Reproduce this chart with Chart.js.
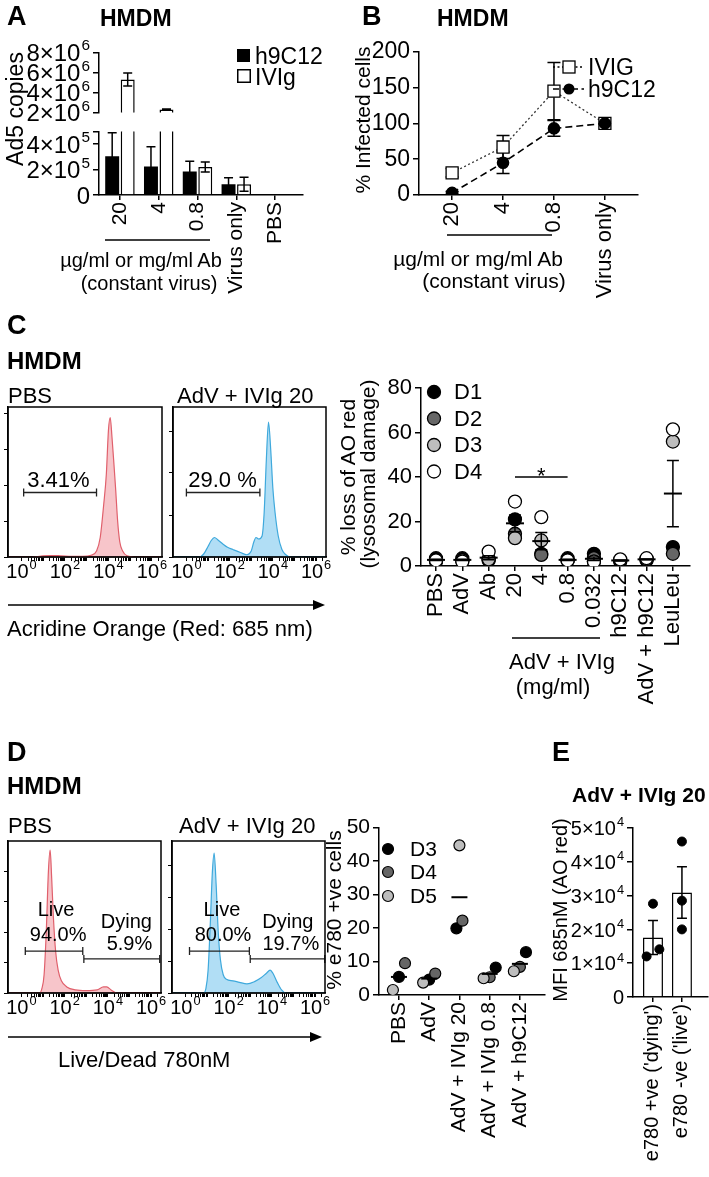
<!DOCTYPE html>
<html lang="en"><head><meta charset="utf-8"><title>HMDM figure</title>
<script src="https://cdn.jsdelivr.net/npm/chart.js@4.4.1/dist/chart.umd.min.js"></script>
<style>
html,body{margin:0;padding:0;background:#fff}
body{position:relative;width:709px;height:1177px;overflow:hidden;font-family:'Liberation Sans',Arial,Helvetica,sans-serif;color:#000}
canvas{position:absolute}
.t{position:absolute;white-space:nowrap;line-height:1.15}
svg{position:absolute;left:0;top:0}
</style></head><body>
<script>
// ================= DATA =================
// Panel A
const aCategories = ['20', '4', '0.8', 'Virus only', 'PBS'];
const aH9C12 = [3.05e5, 2.25e5, 1.85e5, 0.85e5, 0];
const aH9C12Err = [1.85e5, 1.55e5, 0.8e5, 0.5e5, 0];
const aIVIg = [5.3e6, 2.3e6, 2.2e5, 0.85e5, 0];
const aIVIgErr = [0.65e6, 0.05e6, 0.4e5, 0.55e5, 0];
const aUpperTicks = [2e6, 4e6, 6e6, 8e6];
const aUpperTickLabels = ['2×10⁶', '4×10⁶', '6×10⁶', '8×10⁶'];
const aLowerTicks = [0, 2e5, 4e5, 5e5];
const aLowerTickLabels = ['0', '2×10⁵', '4×10⁵', ''];
const aLegend = ['h9C12', 'IVIg'];

// Panel B
const bCategories = ['20', '4', '0.8', 'Virus only'];
const bIVIG = [31, 67, 145, 100];
const bIVIGErr = [6, 16, 40, 0];
const bH9C12 = [3, 45, 93, 100];
const bH9C12Err = [2, 15, 11, 0];
const bTicks = [0, 50, 100, 150, 200];
const bLegend = ['IVIG', 'h9C12'];

// Flow histograms (x = log10 intensity, y = % of mode)
const histDecades = [0, 2, 4, 6];
const histDecadeLabels = ['10⁰', '10²', '10⁴', '10⁶'];
const cPbsLog   = [-0.62, 0.5, 0.9, 1.3, 1.8, 2.3, 2.8, 3.2, 3.45, 3.62, 3.78, 3.9, 4.0, 4.08, 4.16, 4.25, 4.33, 4.42, 4.52, 4.65, 4.85, 5.2, 6.46];
const cPbsCount = [0, 0, 0.6, 1.0, 0.8, 0.5, 0.4, 1.2, 4, 13, 35, 55, 85, 93, 80, 62, 45, 24, 10, 4, 0.8, 0, 0];
const cIvigLog   = [-0.62, 0.6, 0.8, 1.0, 1.15, 1.3, 1.45, 1.7, 1.9, 2.15, 2.5, 2.8, 3.0, 3.12, 3.22, 3.35, 3.5, 3.6, 3.7, 3.8, 3.9, 4.0, 4.1, 4.25, 4.42, 4.6, 4.8, 6.46];
const cIvigCount = [0, 0, 2, 7, 11, 13, 11.5, 8.5, 6.5, 5, 3, 1.5, 4, 10, 13, 12, 14, 30, 65, 90, 72, 46, 30, 14, 5, 1.5, 0, 0];
const cPbsYTicks = [0, 24, 48, 72, 96];
const cIvigYTicks = [0, 28, 56, 84];
const cPbsGates = [{from: 0.1, to: 3.45, y: 43}];
const cPbsGateText = [{text: '3.41%', x: 1.7, y: 50.5}];
const cIvigGates = [{from: 0.0, to: 3.4, y: 43}];
const cIvigGateText = [{text: '29.0 %', x: 1.67, y: 50.5}];

const dPbsLog   = [-0.62, 0.85, 0.95, 1.05, 1.15, 1.25, 1.33, 1.4, 1.48, 1.58, 1.7, 1.85, 2.1, 2.5, 3.0, 3.5, 3.8, 3.95, 4.15, 4.4, 6.46];
const dPbsCount = [0, 0, 3, 12, 40, 80, 94, 76, 50, 28, 15, 8, 4, 2, 1.5, 2, 4, 4, 2, 0, 0];
const dIvigLog   = [-0.62, 0.85, 0.95, 1.05, 1.15, 1.25, 1.33, 1.42, 1.52, 1.62, 1.75, 1.9, 2.2, 2.5, 2.85, 3.2, 3.5, 3.75, 3.92, 4.05, 4.25, 4.45, 4.65, 6.46];
const dIvigCount = [0, 0, 3, 15, 45, 80, 92, 72, 40, 22, 12, 9, 8, 7, 6, 7.5, 10, 13, 15, 13, 7, 2, 0, 0];
const dPbsYTicks = [0, 20, 40, 60, 80];
const dIvigYTicks = [0, 21, 42, 63, 84];
const dPbsGates = [{from: 0.18, to: 2.84, y: 27.6}, {from: 2.89, to: 6.4, y: 22.4}];
const dPbsGateText = [{text: 'Live', x: 1.6, y: 54.6}, {text: '94.0%', x: 1.7, y: 38}, {text: 'Dying', x: 4.86, y: 46.7}, {text: '5.9%', x: 5.0, y: 31.6}];
const dIvigGates = [{from: 0.19, to: 2.96, y: 27.6}, {from: 3.0, to: 6.45, y: 22.4}];
const dIvigGateText = [{text: 'Live', x: 1.69, y: 54.6}, {text: '80.0%', x: 1.74, y: 38}, {text: 'Dying', x: 4.74, y: 46.7}, {text: '19.7%', x: 4.88, y: 31.6}];

// Panel C scatter
const cCategories = ['PBS', 'AdV', 'Ab', '20', '4', '0.8', '0.032', 'h9C12', 'AdV + h9C12', 'LeuLeu'];
const cD1 = [3.5, 3.5, 3.0, 21, 5.5, 3.5, 5.5, 2.0, 2.5, 8.5];
const cD2 = [2.5, 2.5, 2.5, 14.5, 5.0, 2.5, 3.5, 2.5, 3.0, 5.5];
const cD3 = [2.0, 2.5, 3.0, 12.5, 11.5, 2.5, 2.0, 2.5, 3.0, 56];
const cD4 = [2.5, 2.0, 6.5, 29, 22, 2.5, 2.0, 3.0, 3.5, 61.5];
const cMean = [2.75, 2.75, 3.75, 19.2, 11.2, 2.75, 3.25, 2.5, 3.0, 32.6];
const cSem  = [0.3, 0.3, 0.9, 3.8, 3.9, 0.25, 0.8, 0.2, 0.2, 14.9];
const cTicks = [0, 20, 40, 60, 80];
const cDonors = ['D1', 'D2', 'D3', 'D4'];
const cSig = {from: 3, to: 5, y: 40, text: '*'};

// Panel D scatter
const dCategories = ['PBS', 'AdV', 'AdV + IVIg 20', 'AdV + IVIg 0.8', 'AdV + h9C12'];
const dD3 = [5.4, 4.6, 19.9, 8.2, 12.8];
const dD4 = [9.5, 6.4, 22.2, 5.3, 8.4];
const dD5 = [1.5, 3.7, 44.7, 5.0, 7.1];
const dMean = [5.4, 4.9, 29.2, 6.3, 9.3];
const dTicks = [0, 10, 20, 30, 40, 50];
const dDonors = ['D3', 'D4', 'D5'];

// Panel E
const eCategories = ["e780 +ve ('dying')", "e780 -ve ('live')"];
const eDying = [2.76e4, 1.2e4, 1.41e4];
const eLive = [4.6e4, 2.85e4, 2.0e4];
const eMean = [1.76e4, 3.09e4];
const eSem = [0.5e4, 0.76e4];
const eTicks = [0, 1e4, 2e4, 3e4, 4e4, 5e4];
const eTickLabels = ['0', '1×10⁴', '2×10⁴', '3×10⁴', '4×10⁴', '5×10⁴'];

// ================= HELPERS =================
const FONT = "'Liberation Sans', Arial, Helvetica, sans-serif";
Chart.defaults.font.family = FONT;
Chart.defaults.color = '#000';
const CLEAR = 'rgba(0,0,0,0)';
let uid = 0;

function canvasFor(area, g) {
  const c = document.createElement('canvas');
  const left = area.x0 - g.leftW, top = area.y0 - g.topPad;
  const w = area.x1 - area.x0 + g.leftW + g.rightPad;
  const h = area.y1 - area.y0 + g.topPad + g.bottomH + (g.bottomPad || 0);
  c.width = w; c.height = h;
  Object.assign(c.style, {left: left + 'px', top: top + 'px', width: w + 'px', height: h + 'px'});
  document.body.appendChild(c);
  return c;
}
function baseOpts(g) {
  return {
    responsive: false, animation: false, devicePixelRatio: 1, events: [],
    layout: {padding: {left: 0, top: g.topPad, right: g.rightPad, bottom: g.bottomPad || 0}},
    plugins: {legend: {display: false}, tooltip: {enabled: false}}
  };
}
function yAxis(g, min, max, ticks, labels, size, color) {
  return {
    type: 'linear', min, max, position: 'left',
    border: {display: true, color: '#000', width: 1.5},
    grid: {drawOnChartArea: false, drawTicks: true, tickLength: 6, color: '#000', lineWidth: 1.5},
    ticks: {autoSkip: false, padding: 3, font: {size}, color: color || '#000',
            callback: (v, i) => labels ? labels[i] : String(v)},
    afterBuildTicks: s => { s.ticks = ticks.map(v => ({value: v})); },
    afterFit: s => { s.width = g.leftW; }
  };
}
function xAxis(g, min, max, ticks, labels, size) {
  return {
    type: 'linear', min, max, position: 'bottom', offset: false,
    border: {display: true, color: '#000', width: 1.5},
    grid: {drawOnChartArea: false, drawTicks: true, tickLength: 5, color: '#000', lineWidth: 1.5, offset: false},
    ticks: {autoSkip: false, minRotation: 90, maxRotation: 90, padding: 2, font: {size}, color: '#000',
            callback: (v, i) => labels[i]},
    afterBuildTicks: s => { s.ticks = ticks.map(v => ({value: v})); },
    afterFit: s => { s.height = g.bottomH; }
  };
}
// tick labels written with a real raised exponent
const SUP = '⁰¹²³⁴⁵⁶⁷⁸⁹';
function splitSup(s) { let b = '', e = ''; for (const ch of s) { const k = SUP.indexOf(ch); if (k >= 0) e += k; else b += ch; } return [b, e]; }
function supTicks(axisId, size, mode) {
  return {id: 'sup' + (uid++), afterDraw(chart) {
    const sc = chart.scales[axisId], ctx = chart.ctx;
    const tl = sc.options.grid.tickLength, pad = sc.options.ticks.padding, es = size * 0.64;
    ctx.save(); ctx.fillStyle = '#000'; ctx.textBaseline = 'alphabetic'; ctx.textAlign = 'left';
    sc.ticks.forEach((t, i) => {
      if (!t.label) return;
      const [b, e] = splitSup(String(t.label));
      ctx.font = size + 'px ' + FONT; const wb = ctx.measureText(b).width;
      ctx.font = es + 'px ' + FONT; const we = e ? ctx.measureText(e).width + 1 : 0;
      const p = sc.getPixelForTick(i);
      let x, yb;
      if (mode === 'left') { x = sc.right - tl - pad - wb - we; yb = p + 0.36 * size; }
      else { x = p - (wb + we) / 2; yb = sc.top + tl + pad + 0.8 * size; }
      ctx.font = size + 'px ' + FONT; ctx.fillText(b, x, yb);
      if (e) { ctx.font = es + 'px ' + FONT; ctx.fillText(e, x + wb + 1, yb - 0.44 * size); }
    });
    ctx.restore();
  }};
}
function drawErr(chart, sets) {
  const {ctx, chartArea: a} = chart, ys = chart.scales.y;
  ctx.save();
  ctx.beginPath(); ctx.rect(a.left - 30, a.top, a.right - a.left + 60, a.bottom - a.top + 1); ctx.clip();
  ctx.strokeStyle = '#000'; ctx.lineWidth = 1.5;
  sets.forEach(s => {
    const meta = chart.getDatasetMeta(s.ds);
    s.vals.forEach((v, i) => {
      const e = s.errs[i]; if (!e) return;
      const x = meta.data[i].x;
      const yt = ys.getPixelForValue(v + e), yb = ys.getPixelForValue(v - e);
      ctx.beginPath();
      ctx.moveTo(x, yb); ctx.lineTo(x, yt);
      ctx.moveTo(x - s.cap, yt); ctx.lineTo(x + s.cap, yt);
      ctx.moveTo(x - s.cap, yb); ctx.lineTo(x + s.cap, yb);
      ctx.stroke();
    });
  });
  ctx.restore();
}
function errPlugin(sets, when) {
  const id = 'err' + (uid++);
  if (when === 'before') return {id, beforeDatasetsDraw: c => drawErr(c, sets)};
  if (when === 'afterDataset') return {id, afterDatasetDraw: (c, args) => { if (args.index === sets[0].ds) drawErr(c, sets); }};
  return {id, afterDatasetsDraw: c => drawErr(c, sets)};
}
function meanPlugin(means, sems, halfW, cap) {
  return {id: 'mean' + (uid++), afterDatasetsDraw(chart) {
    const {ctx} = chart, xs = chart.scales.x, ys = chart.scales.y;
    ctx.save(); ctx.strokeStyle = '#000';
    means.forEach((m, i) => {
      const x = xs.getPixelForValue(i), y = ys.getPixelForValue(m);
      ctx.lineWidth = 2;
      ctx.beginPath(); ctx.moveTo(x - halfW, y); ctx.lineTo(x + halfW, y); ctx.stroke();
      if (sems && sems[i]) {
        const y1 = ys.getPixelForValue(m + sems[i]), y0 = ys.getPixelForValue(m - sems[i]);
        ctx.lineWidth = 1.5;
        ctx.beginPath(); ctx.moveTo(x, y0); ctx.lineTo(x, y1);
        ctx.moveTo(x - cap, y1); ctx.lineTo(x + cap, y1);
        ctx.moveTo(x - cap, y0); ctx.lineTo(x + cap, y0); ctx.stroke();
      }
    });
    ctx.restore();
  }};
}
function framePlugin() {
  return {id: 'frame' + (uid++), afterDraw(chart) {
    const {ctx, chartArea: a} = chart;
    ctx.save(); ctx.strokeStyle = '#000'; ctx.lineWidth = 1.5;
    ctx.strokeRect(a.left, a.top, a.right - a.left, a.bottom - a.top); ctx.restore();
  }};
}
function gatePlugin(gates, texts, size) {
  return {id: 'gate' + (uid++), afterDatasetsDraw(chart) {
    const {ctx} = chart, xs = chart.scales.x, ys = chart.scales.y;
    ctx.save(); ctx.strokeStyle = '#222'; ctx.lineWidth = 1.3;
    gates.forEach(gt => {
      const x0 = xs.getPixelForValue(gt.from), x1 = xs.getPixelForValue(gt.to), y = ys.getPixelForValue(gt.y);
      ctx.beginPath(); ctx.moveTo(x0, y); ctx.lineTo(x1, y);
      ctx.moveTo(x0, y - 4); ctx.lineTo(x0, y + 4); ctx.moveTo(x1, y - 4); ctx.lineTo(x1, y + 4); ctx.stroke();
    });
    ctx.fillStyle = '#000'; ctx.font = size + 'px ' + FONT; ctx.textAlign = 'center'; ctx.textBaseline = 'middle';
    texts.forEach(t => ctx.fillText(t.text, xs.getPixelForValue(t.x), ys.getPixelForValue(t.y)));
    ctx.restore();
  }};
}
function swarm(vals, thr, step) {
  const idx = vals.map((v, i) => i).sort((a, b) => vals[a] - vals[b]);
  const off = vals.map(() => 0);
  let cl = [idx[0]];
  const flush = () => { const n = cl.length; cl.forEach((k, j) => { off[k] = (j - (n - 1) / 2) * step; }); };
  for (let j = 1; j < idx.length; j++) {
    if (vals[idx[j]] - vals[idx[j - 1]] < thr) cl.push(idx[j]); else { flush(); cl = [idx[j]]; }
  }
  flush();
  return off;
}

const HMIN = -0.62, HMAX = 6.46;
function histChart(area, logs, counts, yTicks, col, gates, texts, gateFont) {
  const g = {leftW: 7, topPad: 4, rightPad: 16, bottomH: 30};
  const cv = canvasFor(area, g);
  const o = baseOpts(g);
  o.scales = {
    x: {type: 'linear', min: HMIN, max: HMAX,
        border: {display: true, color: '#000', width: 1.5},
        grid: {drawOnChartArea: false, drawTicks: true, tickLength: 4, color: '#000', lineWidth: 1},
        ticks: {autoSkip: false, maxRotation: 0, minRotation: 0, padding: 1, font: {size: 20}, color: CLEAR,
                callback: v => { const r = Math.round(v); const k = histDecades.indexOf(r);
                                 return (Math.abs(v - r) < 1e-6 && k >= 0) ? histDecadeLabels[k] : ''; }},
        afterBuildTicks: s => { const t = []; for (let d = 0; d <= 6; d++) for (let m = 1; m <= 9; m++) { const v = d + Math.log10(m); if (v <= HMAX) t.push({value: v}); } s.ticks = t; },
        afterFit: s => { s.height = g.bottomH; }},
    y: {type: 'linear', min: 0, max: 100,
        border: {display: true, color: '#000', width: 1.5},
        grid: {drawOnChartArea: false, drawTicks: true, tickLength: 4, color: '#000', lineWidth: 1},
        ticks: {display: false},
        afterBuildTicks: s => { s.ticks = yTicks.map(v => ({value: v})); },
        afterFit: s => { s.width = g.leftW; }}
  };
  new Chart(cv, {type: 'line',
    data: {datasets: [{data: logs.map((x, i) => ({x, y: counts[i]})), borderColor: col.line, backgroundColor: col.fill,
                       fill: 'origin', borderWidth: 1.2, pointRadius: 0, cubicInterpolationMode: 'monotone'}]},
    options: o, plugins: [framePlugin(), gatePlugin(gates, texts, gateFont), supTicks('x', 20, 'bottom')]});
}
const RED = {line: '#e0606c', fill: 'rgba(240,150,158,0.55)'};
const BLUE = {line: '#3fa9dc', fill: 'rgba(125,200,238,0.6)'};

// ================= PANEL A =================
const aXmin = -0.54, aXmax = 4.72;
function aDatasets() {
  const clip = {left: 30, right: 30, top: 0, bottom: 0};
  return [
    {label: aLegend[0], data: aH9C12.map((y, x) => ({x, y})), backgroundColor: '#000', borderColor: '#000', borderWidth: 0, clip},
    {label: aLegend[1], data: aIVIg.map((y, x) => ({x, y})), backgroundColor: '#fff', borderColor: '#000', borderWidth: 1.5, clip}
  ];
}
const aErrSets = [{ds: 0, vals: aH9C12, errs: aH9C12Err, cap: 4.5}, {ds: 1, vals: aIVIg, errs: aIVIgErr, cap: 4.5}];
{
  const g = {leftW: 76, topPad: 14, rightPad: 16, bottomH: 0, bottomPad: 14};
  const o = baseOpts(g);
  o.datasets = {bar: {categoryPercentage: 0.8, barPercentage: 0.9}};
  o.scales = {x: {type: 'linear', min: aXmin, max: aXmax, display: false, offset: false, grid: {offset: false}},
              y: yAxis(g, 2e6, 8e6, aUpperTicks, aUpperTickLabels, 24, CLEAR)};
  new Chart(canvasFor({x0: 99, x1: 303, y0: 49, y1: 116}, g), {type: 'bar', data: {datasets: aDatasets()}, options: o,
    plugins: [errPlugin(aErrSets), supTicks('y', 24, 'left')]});
}
{
  const g = {leftW: 76, topPad: 14, rightPad: 16, bottomH: 115};
  const o = baseOpts(g);
  o.datasets = {bar: {categoryPercentage: 0.8, barPercentage: 0.9}};
  o.scales = {x: xAxis(g, aXmin, aXmax, [0, 1, 2, 3, 4], aCategories, 21),
              y: yAxis(g, 0, 5e5, aLowerTicks, aLowerTickLabels, 24, CLEAR)};
  new Chart(canvasFor({x0: 99, x1: 303, y0: 128, y1: 195}, g), {type: 'bar', data: {datasets: aDatasets()}, options: o,
    plugins: [errPlugin(aErrSets), supTicks('y', 24, 'left')]});
}

// ================= PANEL B =================
{
  const g = {leftW: 60, topPad: 14, rightPad: 16, bottomH: 110};
  const o = baseOpts(g);
  o.scales = {x: xAxis(g, -0.65, 3.65, [0, 1, 2, 3], bCategories, 22), y: yAxis(g, 0, 200, bTicks, null, 23)};
  new Chart(canvasFor({x0: 419, x1: 638, y0: 49, y1: 195}, g), {type: 'line', data: {datasets: [
    {label: bLegend[0], data: bIVIG.map((y, x) => ({x, y})), borderColor: '#333', borderWidth: 1.3, borderDash: [2, 2.5],
     pointStyle: 'rect', pointRadius: 8.5, pointBackgroundColor: '#fff', pointBorderColor: '#000', pointBorderWidth: 1.3, order: 1},
    {label: bLegend[1], data: bH9C12.map((y, x) => ({x, y})), borderColor: '#000', borderWidth: 1.6, borderDash: [7, 4],
     pointStyle: 'circle', pointRadius: 5.5, pointBackgroundColor: '#000', pointBorderColor: '#000', order: 0}
  ]}, options: o, plugins: [errPlugin([{ds: 0, vals: bIVIG, errs: bIVIGErr, cap: 6.5}, {ds: 1, vals: bH9C12, errs: bH9C12Err, cap: 6.5}], 'before')]});
}

// ================= PANEL C =================
histChart({x0: 8, x1: 162, y0: 407, y1: 557}, cPbsLog, cPbsCount, cPbsYTicks, RED, cPbsGates, cPbsGateText, 22);
histChart({x0: 173, x1: 326, y0: 407, y1: 557}, cIvigLog, cIvigCount, cIvigYTicks, BLUE, cIvigGates, cIvigGateText, 22);
const donorFillC = ['#000', '#666', '#bdbdbd', '#fff'];
{
  const g = {leftW: 40, topPad: 14, rightPad: 16, bottomH: 150};
  const o = baseOpts(g);
  o.scales = {x: xAxis(g, -0.57, 9.65, cCategories.map((_, i) => i), cCategories, 22), y: yAxis(g, 0, 80, cTicks, null, 22)};
  const sig = {id: 'sig', afterDatasetsDraw(chart) {
    const {ctx} = chart, xs = chart.scales.x, ys = chart.scales.y;
    const x0 = xs.getPixelForValue(cSig.from), x1 = xs.getPixelForValue(cSig.to), y = ys.getPixelForValue(cSig.y);
    ctx.save(); ctx.strokeStyle = '#000'; ctx.lineWidth = 1.5;
    ctx.beginPath(); ctx.moveTo(x0, y); ctx.lineTo(x1, y); ctx.stroke();
    ctx.fillStyle = '#000'; ctx.font = '22px ' + FONT; ctx.textAlign = 'center'; ctx.textBaseline = 'alphabetic';
    ctx.fillText(cSig.text, (x0 + x1) / 2, y + 6); ctx.restore();
  }};
  new Chart(canvasFor({x0: 421, x1: 690, y0: 386, y1: 566}, g), {type: 'scatter', data: {datasets:
    [cD1, cD2, cD3, cD4].map((arr, k) => ({label: cDonors[k], data: arr.map((y, x) => ({x, y})), pointRadius: 6.5,
      pointBackgroundColor: donorFillC[k], pointBorderColor: '#000', pointBorderWidth: 1.3, order: 3 - k}))},
    options: o, plugins: [meanPlugin(cMean, cSem, 9, 6), sig]});
}

// ================= PANEL D =================
histChart({x0: 8, x1: 161, y0: 841, y1: 993}, dPbsLog, dPbsCount, dPbsYTicks, RED, dPbsGates, dPbsGateText, 20);
histChart({x0: 172, x1: 325, y0: 841, y1: 993}, dIvigLog, dIvigCount, dIvigYTicks, BLUE, dIvigGates, dIvigGateText, 20);
const donorFillD = ['#000', '#666', '#bdbdbd'];
{
  const g = {leftW: 38, topPad: 14, rightPad: 16, bottomH: 150};
  const o = baseOpts(g);
  o.scales = {x: xAxis(g, -0.66, 4.83, dCategories.map((_, i) => i), dCategories, 21), y: yAxis(g, 0, 50, dTicks, null, 21)};
  const donors = [dD3, dD4, dD5];
  const offs = dCategories.map((_, i) => swarm(donors.map(d => d[i]), 4.5, 0.2));
  new Chart(canvasFor({x0: 379, x1: 545, y0: 826, y1: 995}, g), {type: 'scatter', data: {datasets:
    donors.map((arr, k) => ({label: dDonors[k], data: arr.map((y, i) => ({x: i + offs[i][k], y})), pointRadius: 5.5,
      pointBackgroundColor: donorFillD[k], pointBorderColor: '#000', pointBorderWidth: 1.2, order: 2 - k}))},
    options: o, plugins: [meanPlugin(dMean, null, 8, 0)]});
}

// ================= PANEL E =================
{
  const g = {leftW: 62, topPad: 14, rightPad: 16, bottomH: 180};
  const o = baseOpts(g);
  o.scales = {x: xAxis(g, -0.69, 1.9, [0, 1], eCategories, 20), y: yAxis(g, 0, 5e4, eTicks, eTickLabels, 20, CLEAR)};
  const groups = [eDying, eLive];
  const pts = [];
  groups.forEach((vals, i) => { const off = swarm(vals, 0.35e4, 0.44); vals.forEach((y, k) => pts.push({x: i + off[k], y})); });
  new Chart(canvasFor({x0: 633, x1: 708, y0: 827, y1: 997}, g), {type: 'bar', data: {datasets: [
    {type: 'scatter', data: pts, pointRadius: 4.5, pointBackgroundColor: '#000', pointBorderColor: '#000', order: 0},
    {type: 'bar', data: eMean.map((y, x) => ({x, y})), backgroundColor: '#fff', borderColor: '#000', borderWidth: 1.5,
     categoryPercentage: 1, barPercentage: 0.69, order: 1}
  ]}, options: o, plugins: [errPlugin([{ds: 1, vals: eMean, errs: eSem, cap: 5}], 'afterDataset'), supTicks('y', 20, 'left')]});
}

// ================= TEXT & ANNOTATIONS =================
function T(text, x, y, o = {}) {
  const d = document.createElement('div'); d.className = 't'; d.textContent = text;
  d.style.fontSize = (o.size || 22) + 'px'; if (o.bold) d.style.fontWeight = 'bold';
  d.style.left = x + 'px'; d.style.top = y + 'px';
  if (o.rot) d.style.transform = 'translate(-50%,-50%) rotate(-90deg)';
  else d.style.transform = 'translate(' + (o.align === 'center' ? '-50%' : o.align === 'right' ? '-100%' : '0') + ',-50%)';
  document.body.appendChild(d);
}
const NS = 'http://www.w3.org/2000/svg';
const svg = document.createElementNS(NS, 'svg');
svg.setAttribute('width', 709); svg.setAttribute('height', 1177);
document.body.appendChild(svg);
function S(tag, attrs) { const e = document.createElementNS(NS, tag); for (const k in attrs) e.setAttribute(k, attrs[k]); svg.appendChild(e); return e; }
function line(x1, y1, x2, y2, w, dash) { const a = {x1, y1, x2, y2, stroke: '#000', 'stroke-width': w || 1.5}; if (dash) a['stroke-dasharray'] = dash; S('line', a); }
function arrow(x1, y, x2) { line(x1, y, x2 - 8, y, 1.5); S('polygon', {points: `${x2},${y} ${x2 - 12},${y - 5} ${x2 - 12},${y + 5}`, fill: '#000'}); }

// A
T('A', 7, 17, {size: 27, bold: true});
T('HMDM', 100, 18, {size: 23, bold: true});
T('Ad5 copies', 15, 109, {size: 23, rot: true});
S('rect', {x: 237, y: 49, width: 13, height: 13, fill: '#000'});
S('rect', {x: 237.75, y: 69.75, width: 12.5, height: 12.5, fill: '#fff', stroke: '#000', 'stroke-width': 1.5});
T(aLegend[0], 255, 56, {size: 23});
T(aLegend[1], 255, 77, {size: 23});
line(105, 240, 210, 240);
T('µg/ml or mg/ml Ab', 141, 260, {size: 20, align: 'center'});
T('(constant virus)', 149, 283, {size: 20, align: 'center'});

// B
T('B', 362, 17, {size: 27, bold: true});
T('HMDM', 437, 18, {size: 23, bold: true});
T('% Infected cells', 363, 120, {size: 21, rot: true});
line(553, 67, 584, 67, 1.3, '2,2.5');
S('rect', {x: 563, y: 61, width: 12, height: 12, fill: '#fff', stroke: '#000', 'stroke-width': 1.3});
T(bLegend[0], 588, 67, {size: 23});
line(553, 89, 584, 89, 1.6, '6,3.5');
S('circle', {cx: 569, cy: 89, r: 5.5, fill: '#000'});
T(bLegend[1], 588, 89, {size: 23});
line(447, 235, 552, 235);
T('µg/ml or mg/ml Ab', 478, 259, {size: 21, align: 'center'});
T('(constant virus)', 494, 281, {size: 21, align: 'center'});

// C
T('C', 7, 326, {size: 27, bold: true});
T('HMDM', 7, 361, {size: 24, bold: true});
T('PBS', 8, 396, {size: 22});
T('AdV + IVIg 20', 177, 396, {size: 22});
arrow(8, 605, 325);
T('Acridine Orange (Red: 685 nm)', 7, 629, {size: 22});
T('% loss of AO red', 348, 477, {size: 21, rot: true});
T('(lysosomal damage)', 368, 474, {size: 21, rot: true});
[392, 418.5, 445, 471.5].forEach((y, k) => {
  S('circle', {cx: 434, cy: y, r: 6.5, fill: donorFillC[k], stroke: '#000', 'stroke-width': 1.3});
  T(cDonors[k], 454, y, {size: 22});
});
line(512, 638, 600, 638);
T('AdV + IVIg', 562, 662, {size: 22, align: 'center'});
T('(mg/ml)', 553, 687, {size: 22, align: 'center'});

// D
T('D', 7, 753, {size: 27, bold: true});
T('HMDM', 7, 786, {size: 24, bold: true});
T('PBS', 8, 826, {size: 22});
T('AdV + IVIg 20', 179, 826, {size: 22});
arrow(8, 1037, 322);
T('Live/Dead 780nM', 58, 1060, {size: 22});
T('% e780 +ve cells', 334, 910, {size: 21, rot: true});
[849, 872, 896].forEach((y, k) => {
  S('circle', {cx: 388, cy: y, r: 5.5, fill: donorFillD[k], stroke: '#000', 'stroke-width': 1.2});
  T(dDonors[k], 410, y, {size: 21});
});

// E
T('E', 552, 753, {size: 27, bold: true});
T('AdV + IVIg 20', 572, 795, {size: 21, bold: true});
T('MFI 685nM (AO red)', 560, 910, {size: 20, rot: true});
</script>
</body></html>
